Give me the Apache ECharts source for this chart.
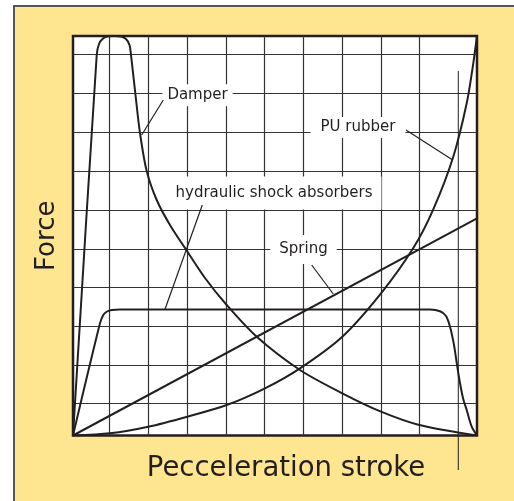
<!DOCTYPE html>
<html>
<head>
<meta charset="utf-8">
<script src="https://cdn.jsdelivr.net/npm/echarts@6/dist/echarts.min.js"></script>
<style>
  html, body { margin: 0; padding: 0; background: #ffffff; overflow: hidden; }
  #chart { width: 514px; height: 501px; }
</style>
</head>
<body>
<div id="chart"></div>
<script>
// stroke (x) and force (y), both in % of the plotted range
const damper = [
  [0, 0], [5.87, 95.24], [6.44, 98.0], [7.43, 99.37], [8.66, 99.92], [10.4, 100],
  [11.88, 99.87], [13.12, 99.25], [13.99, 97.75], [14.36, 95.24], [15.47, 85.23],
  [16.58, 75.72], [18.24, 66.21], [20.72, 58.95], [24.0, 52.69], [27.72, 46.93],
  [32.67, 39.42], [38.04, 32.67], [45.47, 24.73], [56.19, 16.4], [66.66, 10.56],
  [76.24, 5.96], [85.72, 2.63], [100, 0]
];
const hydraulic = [
  [0, 0], [6.68, 28.08], [7.5, 30.16], [8.42, 31.04], [9.65, 31.41], [11.63, 31.54],
  [88.37, 31.54], [90.84, 31.11], [92.33, 29.91], [93.32, 27.23], [94.31, 22.65],
  [94.98, 18.15], [95.79, 13.14], [96.53, 9.39], [97.45, 6.38], [98.69, 2.2], [100, 0]
];
const spring = [[0, 0], [100, 54.37]];
const puRubber = [
  [0, 0], [9.16, 0.55], [18.64, 2.2], [28.29, 4.71], [38.04, 7.63], [47.52, 11.81],
  [56.19, 16.82], [66.66, 24.73], [76.24, 35.59], [84.23, 46.93], [89.18, 56.62],
  [94.13, 69.79], [97.45, 83.15], [99.08, 93.17], [100, 100]
];

// grid line positions
const gridX = [9.08, 18.64, 28.29, 37.87, 47.45, 57.0, 66.66, 76.24, 85.72];
const gridY = [8.01, 17.65, 27.28, 37.05, 46.68, 56.32, 66.08, 75.84, 85.61, 95.37];

// callout labels and their leader lines
const labelNames = ['Damper', 'PU rubber', 'hydraulic shock absorbers', 'Spring'];
const labelPos = [[30.82, 85.18], [70.54, 77.1], [49.75, 60.7], [57.05, 46.56]];
const leaders = [
  [[22.35, 83.98], [17.0, 75.22]],
  [[82.43, 76.47], [93.99, 68.96]],
  [[32.0, 57.7], [22.77, 31.59]],
  [[59.08, 42.68], [64.43, 35.42]]
];
const endMarker = [[95.37, 91.24], [95.37, -8.64]];

const ink = '#231f20';
const font = 'DejaVu Sans';
const labelPadding = [[7, 5, 0, 5], [3, 10], [9, 9], [10, 9, 4, 9]];

const chart = echarts.init(document.getElementById('chart'));

const curve = (name, data) => ({
  name: name,
  type: 'line',
  data: data,
  smooth: 0.3,
  symbol: 'none',
  z: 4,
  lineStyle: { color: ink, width: 2 }
});

chart.setOption({
  animation: false,
  graphic: [{
    type: 'rect',
    z: -10,
    shape: { x: 14, y: 6, width: 600, height: 600 },
    style: { fill: '#fee590', stroke: '#555555', lineWidth: 2 }
  }],
  grid: {
    left: 73, right: 37, top: 36, bottom: 65.5,
    show: true,
    backgroundColor: '#ffffff',
    borderColor: ink,
    borderWidth: 2.5
  },
  xAxis: {
    type: 'value', min: 0, max: 100,
    name: 'Pecceleration stroke',
    nameLocation: 'middle',
    nameGap: 19,
    nameTextStyle: { fontSize: 27.5, color: ink, fontFamily: font, padding: [0, 0, 0, 22] },
    axisLine: { show: false }, axisTick: { show: false },
    axisLabel: { show: false }, splitLine: { show: false }
  },
  yAxis: {
    type: 'value', min: 0, max: 100,
    name: 'Force',
    nameLocation: 'middle',
    nameGap: 13,
    nameTextStyle: { fontSize: 26, color: ink, fontFamily: font },
    axisLine: { show: false }, axisTick: { show: false },
    axisLabel: { show: false }, splitLine: { show: false }
  },
  series: [
    {
      type: 'line',
      data: [],
      z: 1,
      markLine: {
        z: 1,
        silent: true,
        symbol: 'none',
        label: { show: false },
        lineStyle: { color: '#333333', width: 1.2, type: 'solid' },
        data: gridX.map(v => ({ xAxis: v })).concat(gridY.map(v => ({ yAxis: v })))
      }
    },
    {
      type: 'scatter',
      z: 3,
      symbolSize: 1,
      itemStyle: { color: 'rgba(0,0,0,0)' },
      data: labelPos.map((p, i) => ({
        value: p,
        label: {
          show: true,
          position: 'inside',
          formatter: labelNames[i],
          fontSize: 15,
          fontFamily: font,
          color: ink,
          opacity: 1,
          textBorderWidth: 0,
          backgroundColor: '#ffffff',
          padding: labelPadding[i]
        }
      }))
    },
    curve('Damper', damper),
    curve('hydraulic shock absorbers', hydraulic),
    curve('Spring', spring),
    curve('PU rubber', puRubber),
    ...leaders.map(seg => ({
      type: 'line',
      data: seg,
      symbol: 'none',
      z: 5,
      lineStyle: { color: ink, width: 1.2 }
    })),
    {
      type: 'line',
      data: endMarker,
      symbol: 'none',
      clip: false,
      z: 5,
      lineStyle: { color: ink, width: 1 }
    }
  ]
});
</script>
</body>
</html>
